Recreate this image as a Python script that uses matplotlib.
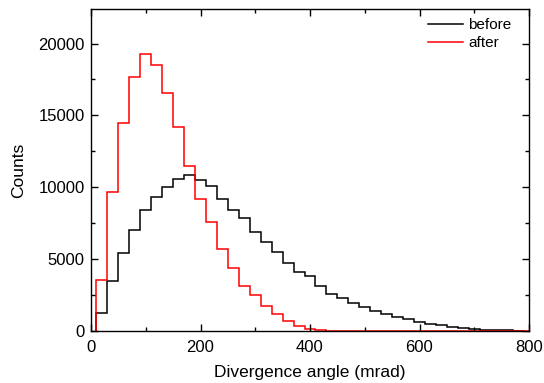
import numpy as np
import matplotlib
matplotlib.use("Agg")
import matplotlib.pyplot as plt
from matplotlib.ticker import MultipleLocator

plt.rcParams['font.family'] = ['Liberation Sans', 'DejaVu Sans']

bin_start = 10
bin_width = 20

before_counts = [1250, 3500, 5400, 7000, 8400, 9350, 10050, 10600, 10850, 10500,
                 10100, 9200, 8450, 7850, 6900, 6200, 5480, 4700, 4100, 3850,
                 3100, 2580, 2270, 1930, 1670, 1410, 1160, 1000, 810, 650,
                 490, 390, 300, 210, 160, 90, 70, 40, 20]
after_counts = [3550, 9700, 14500, 17650, 19300, 18500, 16550, 14200, 11450, 9190,
                7600, 5700, 4370, 3160, 2470, 1770, 1190, 720, 350, 140,
                50, 20, 10, 0, 0, 0, 0, 0, 0, 0,
                0, 0, 0, 0, 0, 0, 0, 0, 0]

edges = bin_start + bin_width * np.arange(len(before_counts) + 1)

fig = plt.figure(figsize=(5.44, 3.83), dpi=100)
ax = fig.add_axes([91/544, 1 - 331/383, (529 - 91)/544, (331 - 9)/383])

ax.stairs(before_counts, edges, baseline=0, color='black', lw=1.1, label='before')
ax.stairs(after_counts, edges, baseline=0, color='red', lw=1.1, label='after')
ax.plot([edges[-1], 800], [0, 0], color='red', lw=1.1)

ax.set_xlim(0, 800)
ax.set_ylim(0, 22400)
ax.xaxis.set_major_locator(MultipleLocator(200))
ax.xaxis.set_minor_locator(MultipleLocator(100))
ax.yaxis.set_major_locator(MultipleLocator(5000))
ax.yaxis.set_minor_locator(MultipleLocator(2500))
ax.tick_params(which='both', direction='in', top=True, right=True, labelsize=12, width=1)
ax.tick_params(which='major', length=5)
ax.tick_params(which='minor', length=3)
ax.tick_params(axis='x', which='major', pad=6.5)
ax.tick_params(axis='y', which='major', pad=4.5)
for s in ax.spines.values():
    s.set_linewidth(1.0)

ax.set_xlabel('Divergence angle (mrad)', fontsize=12.5, labelpad=7)
ax.set_ylabel('Counts', fontsize=12.5, labelpad=9)

ax.legend(loc='upper right', frameon=False, fontsize=11, handlelength=2.35,
          handletextpad=0.33, labelspacing=0.27, borderaxespad=0, borderpad=0,
          bbox_to_anchor=((511.7 - 91) / 438, 0.9724))

fig.savefig('out.png', dpi=100)
